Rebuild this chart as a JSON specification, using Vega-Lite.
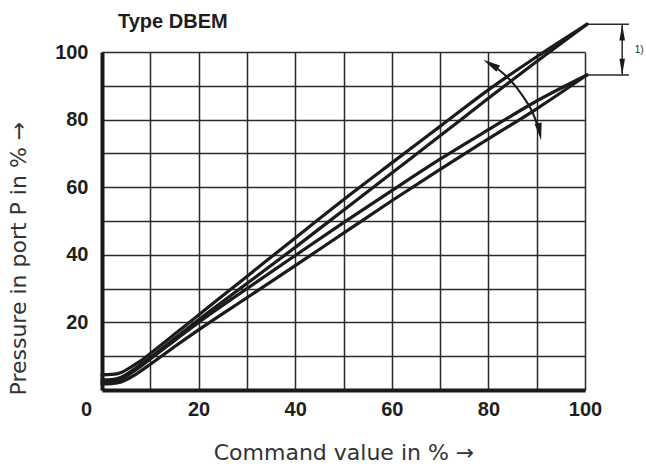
{
  "$schema": "https://vega.github.io/schema/vega-lite/v6.json",
  "width": 483,
  "height": 338,
  "autosize": {"type": "none"},
  "padding": {"left": 102, "top": 52, "right": 61, "bottom": 76},
  "background": "white",
  "title": {"text": "Type DBEM", "anchor": "start", "frame": "group", "dx": 16, "offset": -9, "fontSize": 20, "fontWeight": "bold", "font": "Liberation Sans", "color": "#1e1e1e"},
  "config": {
    "view": {"stroke": null},
    "axis": {
      "grid": true, "gridColor": "#2a2a2a", "gridWidth": 1.5, "gridOpacity": 1,
      "domainColor": "#1a1a1a", "domainWidth": 4,
      "ticks": false,
      "labelFont": "Liberation Sans", "labelFontWeight": "bold", "labelFontSize": 20, "labelColor": "#1e1e1e",
      "labelFlush": false, "labelOverlap": false,
      "titleFont": "DejaVu Sans", "titleFontWeight": "normal", "titleColor": "#333333"
    }
  },
  "encoding": {
    "x": {"field": "x", "type": "quantitative", "scale": {"domain": [0, 100], "nice": false, "zero": false},
      "axis": {"values": [0, 10, 20, 30, 40, 50, 60, 70, 80, 90, 100], "labelExpr": "datum.value % 20 == 0 ? datum.label : ''", "labelPadding": 9, "labelOffset": {"condition": {"test": "datum.value == 0", "value": -16}, "value": 0}, "title": "Command value in % →", "titleFontSize": 22, "titlePadding": 23}},
    "y": {"field": "y", "type": "quantitative", "scale": {"domain": [0, 100], "nice": false, "zero": false},
      "axis": {"values": [0, 10, 20, 30, 40, 50, 60, 70, 80, 90, 100], "labelExpr": "datum.value % 20 == 0 && datum.value > 0 ? datum.label : ''", "labelPadding": 14, "title": "Pressure in port P in % →", "titleFontSize": 22, "titleAnchor": "start", "titleY": 343, "titlePadding": 24}}
  },
  "layer": [
    {
      "data": {"values": [
        {"s": "A", "x": 0, "y": 4.5}, {"s": "A", "x": 2, "y": 4.6}, {"s": "A", "x": 4, "y": 5.2}, {"s": "A", "x": 6, "y": 6.8}, {"s": "A", "x": 8, "y": 8.6}, {"s": "A", "x": 10, "y": 10.8}, {"s": "A", "x": 15, "y": 16.5}, {"s": "A", "x": 20, "y": 22.2}, {"s": "A", "x": 30, "y": 33.6}, {"s": "A", "x": 40, "y": 45}, {"s": "A", "x": 50, "y": 56.3}, {"s": "A", "x": 60, "y": 67.2}, {"s": "A", "x": 70, "y": 78}, {"s": "A", "x": 80, "y": 88.8}, {"s": "A", "x": 90, "y": 98.6}, {"s": "A", "x": 100.4, "y": 108.2},
        {"s": "B", "x": 0, "y": 3}, {"s": "B", "x": 2, "y": 3.1}, {"s": "B", "x": 4, "y": 3.8}, {"s": "B", "x": 6, "y": 5.5}, {"s": "B", "x": 8, "y": 7.5}, {"s": "B", "x": 10, "y": 9.6}, {"s": "B", "x": 15, "y": 15.2}, {"s": "B", "x": 20, "y": 20.8}, {"s": "B", "x": 30, "y": 31.5}, {"s": "B", "x": 40, "y": 42.2}, {"s": "B", "x": 50, "y": 53.2}, {"s": "B", "x": 60, "y": 64.2}, {"s": "B", "x": 70, "y": 75.2}, {"s": "B", "x": 80, "y": 86.3}, {"s": "B", "x": 90, "y": 97.2}, {"s": "B", "x": 100.4, "y": 108.2},
        {"s": "C", "x": 0, "y": 2.5}, {"s": "C", "x": 2, "y": 2.6}, {"s": "C", "x": 4, "y": 3.2}, {"s": "C", "x": 6, "y": 5}, {"s": "C", "x": 8, "y": 7}, {"s": "C", "x": 10, "y": 9.2}, {"s": "C", "x": 15, "y": 14.6}, {"s": "C", "x": 20, "y": 20}, {"s": "C", "x": 30, "y": 30}, {"s": "C", "x": 40, "y": 39.8}, {"s": "C", "x": 50, "y": 49.5}, {"s": "C", "x": 60, "y": 59}, {"s": "C", "x": 70, "y": 68.3}, {"s": "C", "x": 80, "y": 77}, {"s": "C", "x": 90, "y": 85.5}, {"s": "C", "x": 100.4, "y": 93.2},
        {"s": "D", "x": 0, "y": 1.8}, {"s": "D", "x": 2, "y": 1.9}, {"s": "D", "x": 4, "y": 2.4}, {"s": "D", "x": 6, "y": 3.8}, {"s": "D", "x": 8, "y": 5.6}, {"s": "D", "x": 10, "y": 7.6}, {"s": "D", "x": 15, "y": 12.8}, {"s": "D", "x": 20, "y": 17.8}, {"s": "D", "x": 30, "y": 27.3}, {"s": "D", "x": 40, "y": 36.8}, {"s": "D", "x": 50, "y": 46.4}, {"s": "D", "x": 60, "y": 56}, {"s": "D", "x": 70, "y": 65.3}, {"s": "D", "x": 80, "y": 74.3}, {"s": "D", "x": 90, "y": 83.2}, {"s": "D", "x": 100.4, "y": 93.2}
      ]},
      "mark": {"type": "line", "color": "#1b1b1b", "strokeWidth": 3.2, "strokeJoin": "round", "strokeCap": "round", "interpolate": "monotone"},
      "encoding": {
        "detail": {"field": "s"},
        "order": {"field": "x"}
      }
    },
    {
      "data": {"values": [
        {"x": 80.5, "y": 96.4}, {"x": 82.6, "y": 94.2}, {"x": 84.5, "y": 91.7}, {"x": 87.2, "y": 86.8}, {"x": 89.2, "y": 81.95}, {"x": 90.6, "y": 76.45}
      ]},
      "mark": {"type": "line", "color": "#1b1b1b", "strokeWidth": 2, "interpolate": "monotone"},
      "encoding": {"order": {"field": "x"}}
    },
    {
      "data": {"values": [{"x": 80.48, "y": 96.39}]},
      "mark": {"type": "point", "shape": "M0,-1L0.42,1L-0.42,1Z", "size": 300, "filled": true, "color": "#1b1b1b", "opacity": 1, "angle": 300}
    },
    {
      "data": {"values": [{"x": 90.6, "y": 76.45}]},
      "mark": {"type": "point", "shape": "M0,-1L0.42,1L-0.42,1Z", "size": 300, "filled": true, "color": "#1b1b1b", "opacity": 1, "angle": 170}
    },
    {
      "data": {"values": [{"x": 100.6, "x2": 109.1, "y": 108.2}, {"x": 100.6, "x2": 109.1, "y": 93.2}]},
      "mark": {"type": "rule", "color": "#2a2a2a", "strokeWidth": 1.5},
      "encoding": {"x2": {"field": "x2"}}
    },
    {
      "data": {"values": [{"x": 107.7, "y": 108.2, "y2": 93.2}]},
      "mark": {"type": "rule", "color": "#2a2a2a", "strokeWidth": 1.5},
      "encoding": {"y2": {"field": "y2"}}
    },
    {
      "data": {"values": [{"x": 107.7, "y": 105.8}]},
      "mark": {"type": "point", "shape": "M0,-1L0.35,1L-0.35,1Z", "size": 256, "filled": true, "color": "#1b1b1b", "opacity": 1, "angle": 0}
    },
    {
      "data": {"values": [{"x": 107.7, "y": 95.6}]},
      "mark": {"type": "point", "shape": "M0,-1L0.35,1L-0.35,1Z", "size": 256, "filled": true, "color": "#1b1b1b", "opacity": 1, "angle": 180}
    },
    {
      "data": {"values": [{"x": 110.3, "y": 100.5, "t": "1)"}]},
      "mark": {"type": "text", "align": "left", "baseline": "middle", "font": "Liberation Sans", "fontSize": 10, "color": "#2a2a2a"},
      "encoding": {"text": {"field": "t"}}
    }
  ]
}
